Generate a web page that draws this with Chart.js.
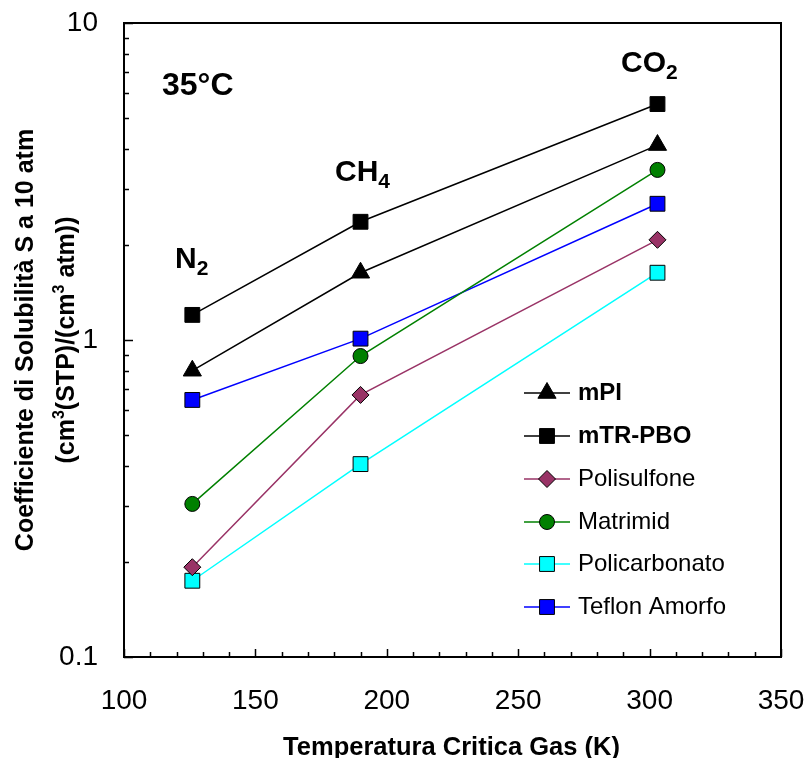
<!DOCTYPE html>
<html>
<head>
<meta charset="utf-8">
<script src="https://cdn.jsdelivr.net/npm/chart.js@4/dist/chart.umd.min.js"></script>
<style>
  body { margin: 0; background: #fff; }
</style>
</head>
<body>
<canvas id="myChart" width="805" height="758"></canvas>
<script>
'use strict';

var FONT = '"Liberation Sans", Arial, sans-serif';

// critical temperature of the gases (K)
var gases = ['N2', 'CH4', 'CO2'];
var tempCritica = [126, 190, 303];

// solubility coefficient at 10 atm
var mPI = [0.80, 1.63, 4.12];
var mTRPBO = [1.20, 2.36, 5.55];
var polisulfone = [0.192, 0.671, 2.07];
var matrimid = [0.304, 0.89, 3.44];
var policarbonato = [0.174, 0.406, 1.63];
var teflonAmorfo = [0.647, 1.01, 2.69];

var xTicks = [100, 150, 200, 250, 300, 350];
var yTicks = [0.1, 1, 10];

function toPoints(values) {
  return tempCritica.map(function (t, i) {
    return { x: t, y: values[i] };
  });
}

function serie(label, values, color, fill, style, radius, bold) {
  return {
    label: label,
    data: toPoints(values),
    borderColor: color,
    borderWidth: 1.5,
    pointStyle: style,
    pointRadius: radius,
    pointBackgroundColor: fill,
    pointBorderColor: '#000',
    pointBorderWidth: 1,
    fill: false,
    tension: 0,
    bold: bold
  };
}

var datasets = [
  serie('mPI', mPI, '#000', '#000', 'triangle', 10.5, true),
  serie('mTR-PBO', mTRPBO, '#000', '#000', 'rect', 10.5, true),
  serie('Polisulfone', polisulfone, '#993366', '#993366', 'rectRot', 8.5, false),
  serie('Matrimid', matrimid, '#008000', '#008000', 'circle', 7.5, false),
  serie('Policarbonato', policarbonato, '#00FFFF', '#00FFFF', 'rect', 10.5, false),
  serie('Teflon Amorfo', teflonAmorfo, '#0000FF', '#0000FF', 'rect', 10.5, false)
];

// draws text with sub / superscript pieces: [text, size, dy]
function drawRich(ctx, parts, x, y, align) {
  var total = 0;
  parts.forEach(function (p) {
    ctx.font = 'bold ' + p[1] + 'px ' + FONT;
    total += ctx.measureText(p[0]).width;
  });
  var cx = align === 'center' ? x - total / 2 : x;
  ctx.textAlign = 'left';
  ctx.textBaseline = 'alphabetic';
  parts.forEach(function (p) {
    ctx.font = 'bold ' + p[1] + 'px ' + FONT;
    ctx.fillText(p[0], cx, y + p[2]);
    cx += ctx.measureText(p[0]).width;
  });
}

// frame and inward tick marks
var frameTicks = {
  id: 'frameTicks',
  beforeDatasetsDraw: function (chart) {
    var ctx = chart.ctx;
    var a = chart.chartArea;
    var xs = chart.scales.x;
    var ys = chart.scales.y;
    ctx.save();
    ctx.strokeStyle = '#000';
    ctx.lineWidth = 1.5;
    ctx.beginPath();
    for (var v = 100; v <= 350; v += 10) {
      var px = Math.round(xs.getPixelForValue(v)) + 0.5;
      var len = v % 50 === 0 ? 8 : 5;
      ctx.moveTo(px, a.bottom);
      ctx.lineTo(px, a.bottom - len);
    }
    [0.1, 1].forEach(function (dec) {
      for (var m = 1; m <= 10; m++) {
        var py = Math.round(ys.getPixelForValue(dec * m)) + 0.5;
        var l = (m === 1 || m === 10) ? 9 : 5;
        ctx.moveTo(a.left, py);
        ctx.lineTo(a.left + l, py);
      }
    });
    ctx.stroke();
    ctx.lineWidth = 2;
    ctx.strokeRect(a.left, a.top, a.right - a.left, a.bottom - a.top);
    ctx.restore();
  }
};

// titles, gas labels and legend
var labels = {
  id: 'labels',
  afterDraw: function (chart) {
    var ctx = chart.ctx;
    var a = chart.chartArea;
    var cy = (a.top + a.bottom) / 2;
    ctx.save();
    ctx.fillStyle = '#000';

    // y axis title
    ctx.save();
    ctx.translate(33, cy);
    ctx.rotate(-Math.PI / 2);
    drawRich(ctx, [['Coefficiente di Solubilità S a 10 atm', 25, 0]], 0, 0, 'center');
    ctx.restore();
    ctx.save();
    ctx.translate(74, cy);
    ctx.rotate(-Math.PI / 2);
    drawRich(ctx, [['(cm', 25, 0], ['3', 16, -10], ['(STP)/(cm', 25, 0], ['3', 16, -10], [' atm))', 25, 0]], 0, 0, 'center');
    ctx.restore();

    // x axis title
    drawRich(ctx, [['Temperatura Critica Gas (K)', 25.5, 0]], (a.left + a.right) / 2 - 1, 755, 'center');

    // temperature and gases
    drawRich(ctx, [['35°C', 32, 0]], 162, 95, 'left');
    drawRich(ctx, [['N', 30, 0], ['2', 21, 7]], 175, 268, 'left');
    drawRich(ctx, [['CH', 30, 0], ['4', 21, 7]], 335, 181, 'left');
    drawRich(ctx, [['CO', 30, 0], ['2', 21, 7]], 621, 72, 'left');

    // legend
    var rowY = [393, 436, 479, 522, 564, 607];
    chart.data.datasets.forEach(function (ds, i) {
      var y = rowY[i];
      ctx.strokeStyle = ds.borderColor;
      ctx.lineWidth = ds.borderWidth;
      ctx.beginPath();
      ctx.moveTo(524, y);
      ctx.lineTo(570, y);
      ctx.stroke();
      ctx.fillStyle = ds.pointBackgroundColor;
      ctx.strokeStyle = '#000';
      ctx.lineWidth = 1;
      Chart.helpers.drawPoint(ctx, { pointStyle: ds.pointStyle, radius: ds.pointRadius, borderWidth: 1, rotation: 0 }, 547, y);
      ctx.fillStyle = '#000';
      ctx.font = (ds.bold ? 'bold ' : '') + '24px ' + FONT;
      ctx.textAlign = 'left';
      ctx.textBaseline = 'middle';
      ctx.fillText(ds.label, 578, y);
    });
    ctx.restore();
  }
};

var chart = new Chart(document.getElementById('myChart').getContext('2d'), {
  type: 'line',
  data: { datasets: datasets },
  options: {
    responsive: false,
    animation: false,
    layout: { padding: { top: 23, right: 24, left: 0, bottom: 0 } },
    plugins: {
      legend: { display: false },
      tooltip: { enabled: false }
    },
    scales: {
      x: {
        type: 'linear',
        min: 100,
        max: 350,
        grid: { display: false, drawTicks: false },
        border: { display: false },
        afterBuildTicks: function (s) {
          s.ticks = xTicks.map(function (v) { return { value: v }; });
        },
        ticks: {
          padding: 27,
          maxRotation: 0,
          color: '#000',
          font: { family: FONT, size: 28 },
          callback: function (v) { return String(v); }
        },
        afterFit: function (s) {
          s.height = 101;
          s.paddingLeft = 0;
          s.paddingRight = 0;
        }
      },
      y: {
        type: 'logarithmic',
        min: 0.1,
        max: 10,
        grid: { display: false, drawTicks: false },
        border: { display: false },
        afterBuildTicks: function (s) {
          s.ticks = yTicks.map(function (v) { return { value: v }; });
        },
        ticks: {
          padding: 26,
          color: '#000',
          font: { family: FONT, size: 28 },
          callback: function (v) { return String(v); }
        },
        afterFit: function (s) {
          s.width = 124;
          s.paddingTop = 0;
          s.paddingBottom = 0;
        }
      }
    }
  },
  plugins: [frameTicks, labels]
});
</script>
</body>
</html>
